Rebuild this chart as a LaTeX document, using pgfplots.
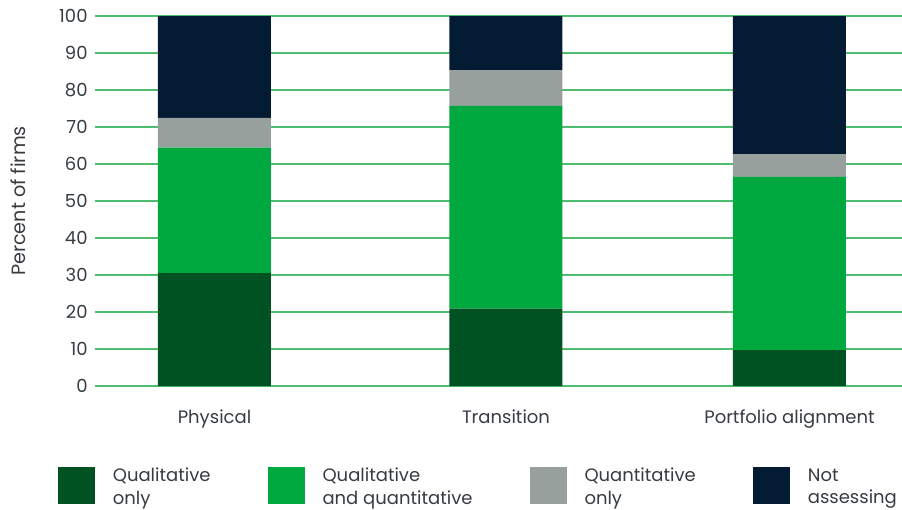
\documentclass[border=0pt]{standalone}
\usepackage{fontspec}
\setmainfont{Poppins}
\usepackage{pgfplots}
\pgfplotsset{compat=1.18}

\definecolor{qualonly}{RGB}{0,82,35}
\definecolor{qualquant}{RGB}{0,168,64}
\definecolor{quantonly}{RGB}{152,160,158}
\definecolor{notass}{RGB}{4,27,52}
\definecolor{gridgreen}{RGB}{77,190,112}
\definecolor{txt}{RGB}{55,60,66}

\begin{document}
\begin{tikzpicture}
\useasboundingbox (-47.5pt,-62pt) rectangle (403.5pt,193pt);
\begin{axis}[
    at={(0,0)}, anchor=south west,
    scale only axis,
    width=403.5pt, height=185pt,
    ybar stacked,
    bar width=56.5pt,
    xmin=95, xmax=902,
    ymin=0, ymax=100,
    xtick={214.5,506,789.5},
    xticklabels={Physical, Transition, Portfolio alignment},
    ytick={0,10,...,100},
    axis line style={draw=none},
    major tick length=0pt,
    ymajorgrids,
    grid style={gridgreen, line width=0.6pt},
    font=\fontsize{9}{10}\selectfont\color{txt},
    /pgf/number format/assume math mode=true,
    yticklabel style={inner sep=0pt, xshift=-3.5pt, anchor=east},
    xticklabel style={inner sep=0pt, anchor=north, yshift=-11.5pt},
    ylabel={Percent of firms},
    ylabel style={at={(axis description cs:-0.0955,0.5)}, anchor=center, font=\fontsize{9.6}{10}\selectfont\color{txt}},
    legend columns=4,
    legend style={at={(axis description cs:-0.046,-0.2735)}, anchor=west,
        draw=none, inner sep=0pt, outer sep=0pt,
        font=\fontsize{9}{11.2}\selectfont\color{txt},
        cells={anchor=west, align=left},
        nodes={inner sep=0pt, yshift=-1pt},
        /tikz/every odd column/.append style={column sep=9pt},
        /tikz/every even column/.append style={column sep=28.5pt}},
    legend image code/.code={\fill[#1] (0pt,-9.25pt) rectangle (18.5pt,9.25pt);},
]
\addplot[fill=qualonly, draw=none] coordinates {(214.5,30.5) (506,20.9) (789.5,9.7)};
\addplot[fill=qualquant, draw=none] coordinates {(214.5,33.9) (506,54.8) (789.5,46.8)};
\addplot[fill=quantonly, draw=none] coordinates {(214.5,8.1) (506,9.7) (789.5,6.2)};
\addplot[fill=notass, draw=none] coordinates {(214.5,27.5) (506,14.6) (789.5,37.3)};
\legend{Qualitative\\only, Qualitative\\and quantitative, Quantitative\\only, Not\\assessing}
\end{axis}
\end{tikzpicture}
\end{document}
